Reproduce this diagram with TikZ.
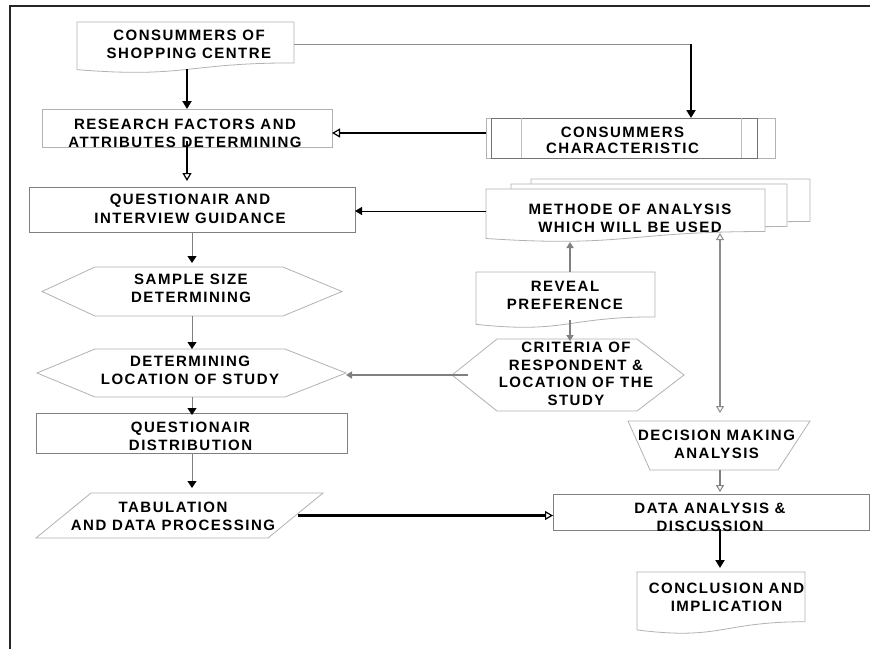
\documentclass[tikz,border=0pt]{standalone}
\usepackage{fontspec}
\setmainfont{Liberation Sans}
\newfontfamily\labelfont{Liberation Sans}[LetterSpace=10]
\usetikzlibrary{arrows.meta,calc}

\tikzset{
  box/.style={draw=none, inner sep=0pt, outer sep=0pt},
  outl/.style={draw=black!30, line width=0.8pt, fill=white},
  outd/.style={draw=black!50, line width=0.8pt, fill=white},
  txt/.style={font=\labelfont\bfseries\fontsize{15}{18}\selectfont, align=center, inner sep=0pt},
  blk/.style={draw=black, line width=2.2pt, -{Triangle[length=8pt,width=9pt]}},
  blkopen/.style={draw=black, line width=2.2pt, -{Triangle[open,length=8pt,width=9pt,line width=1.2pt]}},
  thinblk/.style={draw=black, line width=0.9pt, -{Triangle[length=7pt,width=8pt]}},
  garrow/.style={draw=black!50, line width=1pt, -{Triangle[length=7pt,width=9pt,color=black]}},
  gthick/.style={draw=black!50, line width=2.2pt, -{Triangle[length=6pt,width=7pt]}},
  gthickopen/.style={draw=black!45, line width=2.2pt, {Triangle[open,length=7pt,width=8pt,line width=1pt]}-{Triangle[open,length=7pt,width=8pt,line width=1pt]}},
  gopen/.style={draw=black!50, line width=1.4pt, -{Triangle[open,length=7pt,width=8pt,line width=1pt]}},
  gline/.style={draw=black!45, line width=1pt},
}

\begin{document}
\begin{tikzpicture}[x=1pt,y=-1pt]
\useasboundingbox (0,0) rectangle (870,649);

% outer frame
\draw[line width=2pt, black!85] (10,649) -- (10,6) -- (870,6);

% ---- named boxes ----
\node[box, minimum width=217pt, minimum height=51pt] (d1) at (185.5,47.5) {};
\node[box, minimum width=290pt, minimum height=38pt] (rs) at (187,128) {};
\node[box, minimum width=289pt, minimum height=40pt] (cc) at (630.5,138) {};
\node[box, minimum width=326pt, minimum height=45pt] (qg) at (192,209.5) {};
\node[box, minimum width=279pt, minimum height=53pt] (m3) at (670.5,205.5) {};
\node[box, minimum width=276pt, minimum height=53pt] (m2) at (649,210.5) {};
\node[box, minimum width=279pt, minimum height=53pt] (mt) at (625.5,215.5) {};
\node[box, minimum width=300pt, minimum height=49pt] (ss) at (192,291.5) {};
\node[box, minimum width=309pt, minimum height=48pt] (lo) at (191.5,373) {};
\node[box, minimum width=311pt, minimum height=40pt] (qd) at (191.5,433) {};
\node[box, minimum width=287pt, minimum height=45pt] (tb) at (179.5,515.5) {};
\node[box, minimum width=179pt, minimum height=56pt] (rp) at (565.5,300) {};
\node[box, minimum width=232pt, minimum height=72pt] (cr) at (568,375) {};
\node[box, minimum width=182pt, minimum height=49pt] (dm) at (719,445.5) {};
\node[box, minimum width=316pt, minimum height=36pt] (da) at (711,512) {};
\node[box, minimum width=168pt, minimum height=62pt] (cn) at (721,603) {};

% ---- outlines ----
% document shapes
\foreach \n in {d1,m3,m2,mt,rp,cn}{
  \draw[outl] (\n.north west) -- (\n.north east)
    -- ($(\n.north east)!0.802!(\n.south east)$)
    .. controls ($(\n.north)!0.802!(\n.south)$) and ($(\n.north)!1.107!(\n.south)$)
    .. ($(\n.north west)!0.934!(\n.south west)$) -- cycle;
}
% plain rectangles
\draw[outl] (rs.north west) rectangle (rs.south east);
\draw[outd] (qg.north west) rectangle (qg.south east);
\draw[outd] (qd.north west) rectangle (qd.south east);
\draw[outd] (da.north west) rectangle (da.south east);
% predefined process
\draw[outl] (cc.north west) rectangle (cc.south east);
\draw[draw=black!55, line width=0.8pt] ($(cc.north west)+(5,0)$) rectangle ($(cc.south east)+(-18,0)$);
\draw[draw=black!25, line width=0.8pt] ($(cc.north west)+(35,0)$) -- ($(cc.south west)+(35,0)$)
  ($(cc.north east)+(-34,0)$) -- ($(cc.south east)+(-34,0)$);
% hexagons
\draw[outl] (ss.west) -- ($(ss.north west)+(53,0)$) -- ($(ss.north east)+(-59,0)$) -- (ss.east)
  -- ($(ss.south east)+(-59,0)$) -- ($(ss.south west)+(53,0)$) -- cycle;
\draw[outl] (lo.west) -- ($(lo.north west)+(58,0)$) -- ($(lo.north east)+(-61,0)$) -- (lo.east)
  -- ($(lo.south east)+(-61,0)$) -- ($(lo.south west)+(58,0)$) -- cycle;
\draw[outl] (cr.west) -- ($(cr.north west)+(45,0)$) -- ($(cr.north east)+(-47,0)$) -- (cr.east)
  -- ($(cr.south east)+(-47,0)$) -- ($(cr.south west)+(45,0)$) -- cycle;
% parallelogram
\draw[outl] ($(tb.north west)+(55,0)$) -- (tb.north east) -- ($(tb.south east)+(-55,0)$) -- (tb.south west) -- cycle;
% manual operation trapezium
\draw[outl] (dm.north west) -- (dm.north east) -- ($(dm.south east)+(-32,0)$) -- ($(dm.south west)+(22,0)$) -- cycle;

% ---- texts ----
\node[txt] (t-d1) at (189,44) {CONSUMMERS OF\\SHOPPING CENTRE};
\node[txt] (t-rs) at (185,133) {RESEARCH FACTORS AND\\ATTRIBUTES DETERMINING};
\node[txt, font=\labelfont\bfseries\fontsize{15}{16}\selectfont] (t-cc) at (622.5,140) {CONSUMMERS\\CHARACTERISTIC};
\node[txt, font=\labelfont\bfseries\fontsize{15}{19.5}\selectfont] (t-qg) at (190,209) {QUESTIONAIR AND\\INTERVIEW GUIDANCE};
\node[txt] (t-mt) at (630,218) {METHODE OF ANALYSIS\\WHICH WILL BE USED};
\node[txt] (t-ss) at (191,288) {SAMPLE SIZE\\DETERMINING};
\node[txt] (t-lo) at (190,370) {DETERMINING\\LOCATION OF STUDY};
\node[txt] (t-qd) at (190.5,436) {QUESTIONAIR\\DISTRIBUTION};
\node[txt] (t-tb) at (173,516) {TABULATION\\AND DATA PROCESSING};
\node[txt] (t-rp) at (565,295) {REVEAL\\PREFERENCE};
\node[txt, font=\labelfont\bfseries\fontsize{15}{17.5}\selectfont] (t-cr) at (576,374) {CRITERIA OF\\RESPONDENT \&\\LOCATION OF THE\\STUDY};
\node[txt] (t-dm) at (716.5,444) {DECISION MAKING\\ANALYSIS};
\node[txt] (t-da) at (710,517) {DATA ANALYSIS \&\\DISCUSSION};
\node[txt] (t-cn) at (726.5,597) {CONCLUSION AND\\IMPLICATION};

% ---- connectors ----
\coordinate (k1) at (691,44);
\draw[blk] ([yshift=4pt]d1.south -| rs.north) -- (rs.north);
\draw[blkopen] ([yshift=6pt]rs.south) -- ([yshift=6pt]rs.south |- qg.north);
\draw[gline] ([yshift=3.5pt]d1.east) -- (k1);
\draw[blk] (k1) -- (k1 |- cc.north);
\draw[blkopen] ([yshift=5pt]cc.west) -- ([yshift=5pt]cc.west -| rs.east);
\draw[thinblk] ([yshift=4.5pt]mt.west) -- ([yshift=4.5pt]mt.west -| qg.east);
\draw[garrow] (qg.south) -- ([yshift=4pt]ss.north);
\draw[garrow] (ss.south) -- (ss.south |- lo.north);
\draw[garrow] (lo.south -| ss.south) -- ([yshift=-2pt]ss.south |- qd.north);
\draw[garrow] (qd.south -| ss.south) -- ([yshift=5pt]ss.south |- tb.north);
\draw[blkopen] ([xshift=-25pt]tb.east) -- (da.west |- tb.east);
\draw[gthick] ([xshift=16pt]cr.west) -- (lo.east |- cr.west);
\draw[gthick, {Triangle[length=6pt,width=7pt]}-] ([xshift=4.5pt]rp.north |- mt.south) -- ([xshift=4.5pt]rp.north);
\draw[gthick] ([xshift=4.5pt,yshift=8pt]rp.south) -- ([xshift=4.5pt,yshift=-2pt]rp.south |- cr.north);
\draw[gthickopen] ([xshift=1pt,yshift=9pt]mt.south -| dm.north) -- ([xshift=1pt,yshift=8pt]dm.north);
\draw[gopen] ([xshift=1pt]dm.south) -- ([xshift=1pt,yshift=2pt]dm.south |- da.north);
\draw[blk] ([xshift=1pt,yshift=1pt]da.south -| dm.south) -- ([xshift=1pt,yshift=4pt]dm.south |- cn.north);
\end{tikzpicture}
\end{document}
